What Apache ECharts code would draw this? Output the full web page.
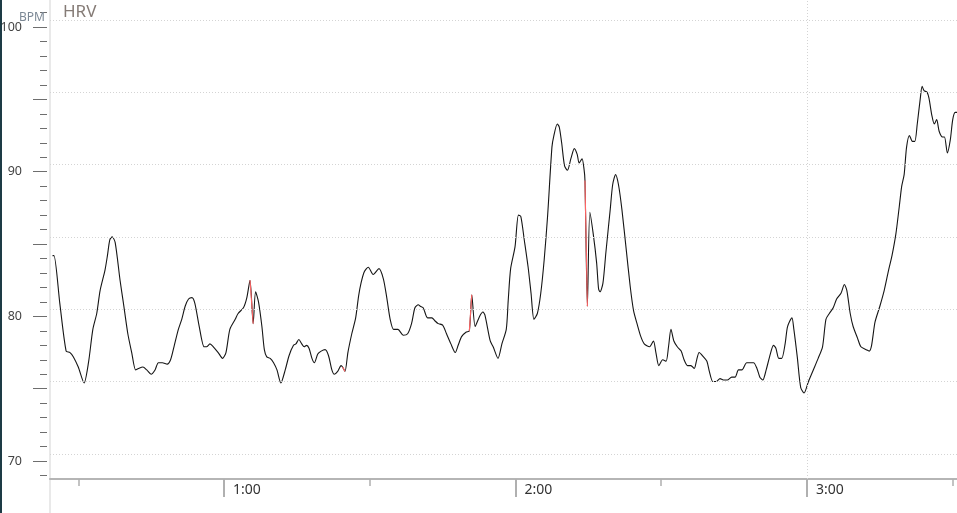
<!DOCTYPE html>
<html>
<head>
<meta charset="utf-8">
<title>HRV</title>
<script src="https://cdn.jsdelivr.net/npm/echarts@6/dist/echarts.min.js"></script>
<style>
  html, body { margin: 0; padding: 0; background: #fff; }
  #hrvChart { width: 957px; height: 513px; }
</style>
</head>
<body>
<div id="hrvChart"></div>
<script>
// time in seconds (label m:ss), heart rate in BPM
var secs = [
  24.7, 25.0, 26.2, 27.5, 28.3, 29.0, 30.0, 31.2, 32.1, 33.0, 33.8, 34.5, 35.5, 36.0, 36.5, 37.0, 37.6, 38.6, 39.3, 40.2,
  41.0, 41.8, 42.4, 43.3, 44.1, 45.0, 45.8, 46.5, 47.3, 48.3, 49.0, 49.7, 50.6, 51.3, 52.0, 52.7, 53.4, 54.0, 54.9, 55.9,
  56.4, 57.1, 57.8, 58.8, 59.7, 60.4, 61.2, 62.3, 62.9, 64.0, 64.7, 65.35, 66.0, 66.5, 67.1, 67.8, 68.3, 68.8, 69.5, 70.2,
  70.9, 71.7, 72.6, 73.4, 74.3, 74.8, 75.4, 76.0, 76.5, 77.0, 77.5, 78.1, 78.6, 79.3, 80.0, 80.8, 81.5, 82.2, 82.7, 83.4,
  84.1, 84.4, 84.9, 85.5, 86.3, 87.1, 87.7, 88.2, 88.9, 89.7, 90.7, 91.9, 92.8, 93.5, 94.2, 94.9, 95.8, 96.9, 97.8, 98.6,
  99.3, 100.0, 100.4, 101.0, 101.9, 102.8, 103.4, 104.1, 105.0, 105.8, 106.7, 107.6, 108.2, 108.9, 109.8, 110.5, 111.0, 111.7, 112.6, 113.3,
  113.7, 114.8, 115.4, 116.4, 117.2, 118.1, 118.5, 119.0, 119.9, 120.6, 121.1, 121.8, 122.6, 123.2, 123.8, 124.5, 125.2, 125.9, 126.6, 127.5,
  127.9, 128.6, 129.0, 129.5, 130.1, 130.7, 131.4, 132.1, 132.7, 133.1, 133.7, 134.1, 134.3, 134.8, 135.3, 136.0, 136.7, 137.1, 137.4, 138.0,
  138.6, 139.5, 140.0, 140.6, 141.2, 141.9, 142.8, 143.6, 144.3, 145.1, 145.8, 146.5, 147.6, 148.4, 148.9, 149.5, 150.3, 151.0, 151.5, 152.0,
  152.6, 153.3, 154.1, 154.7, 155.4, 156.1, 156.8, 157.3, 157.8, 158.7, 159.4, 159.9, 160.6, 161.3, 162.1, 162.8, 163.6, 164.5, 165.2, 165.9,
  166.6, 167.6, 169.0, 169.7, 170.3, 170.9, 171.6, 172.3, 173.1, 173.6, 174.2, 174.8, 175.5, 176.0, 176.9, 177.3, 178.0, 178.7, 179.4, 180.3,
  181.3, 182.3, 183.2, 183.9, 184.6, 185.4, 186.1, 187.0, 187.7, 188.2, 188.9, 189.5, 190.4, 191.1, 192.2, 192.8, 193.3, 194.0, 195.0, 195.9,
  196.8, 197.5, 198.3, 199.0, 199.5, 200.0, 200.5, 201.1, 201.7, 202.2, 202.7, 203.3, 203.7, 204.1, 204.7, 205.1, 205.7, 206.2, 206.7, 207.2,
  207.9, 208.3, 208.9, 209.5, 210.0, 210.5, 210.9
];
var bpm = [
  84.2, 84.2, 80.9, 77.6, 77.5, 77.2, 76.5, 75.4, 76.8, 79.1, 80.2, 81.8, 83.2, 84.2, 85.3, 85.5, 85.1, 82.5, 80.9, 78.8,
  77.5, 76.3, 76.4, 76.5, 76.3, 76.0, 76.3, 76.8, 76.8, 76.7, 77.0, 77.9, 79.1, 79.8, 80.7, 81.2, 81.3, 80.9, 79.3, 77.9,
  77.9, 78.1, 77.9, 77.5, 77.1, 77.5, 79.1, 79.8, 80.2, 80.6, 81.3, 82.5, 79.5, 81.7, 81.0, 79.3, 77.7, 77.2, 77.1, 76.8,
  76.3, 75.4, 76.3, 77.3, 78.0, 78.1, 78.4, 78.1, 77.9, 78.0, 77.8, 77.1, 76.8, 77.4, 77.6, 77.7, 77.3, 76.3, 76.0, 76.2,
  76.6, 76.5, 76.2, 77.5, 78.8, 79.9, 81.4, 82.3, 83.1, 83.4, 82.9, 83.3, 82.6, 81.3, 79.8, 79.1, 79.1, 78.7, 78.8, 79.5,
  80.6, 80.8, 80.7, 80.6, 79.9, 79.9, 79.7, 79.5, 79.4, 78.8, 78.1, 77.5, 78.0, 78.6, 78.9, 79.0, 81.5, 79.3, 80.0, 80.3,
  80.1, 78.3, 77.9, 77.1, 78.1, 79.1, 81.1, 83.3, 84.8, 87.0, 86.9, 85.3, 83.4, 81.6, 79.8, 80.2, 81.6, 83.9, 86.9, 91.7,
  92.5, 93.3, 93.1, 92.0, 90.4, 90.1, 90.9, 91.6, 91.2, 90.6, 90.9, 90.2, 89.4, 80.7, 87.2, 85.7, 83.7, 81.9, 81.7, 82.3,
  84.4, 87.4, 89.1, 89.8, 89.1, 87.4, 84.6, 82.1, 80.4, 79.4, 78.6, 78.1, 77.9, 78.3, 77.5, 76.6, 77.0, 76.9, 77.9, 79.1,
  78.3, 77.9, 77.6, 77.0, 76.6, 76.6, 76.4, 77.0, 77.5, 77.2, 76.9, 76.2, 75.5, 75.5, 75.7, 75.6, 75.6, 75.8, 75.8, 76.3,
  76.3, 76.8, 76.8, 76.4, 75.8, 75.6, 76.3, 77.2, 78.0, 77.8, 77.1, 77.1, 78.1, 79.3, 79.9, 79.1, 77.2, 75.1, 74.7, 75.5,
  76.3, 77.1, 77.9, 79.8, 80.2, 80.6, 81.2, 81.6, 82.2, 81.8, 80.2, 79.3, 78.5, 77.9, 77.7, 77.6, 78.0, 79.6, 80.7, 81.8,
  83.2, 84.2, 85.7, 87.6, 89.0, 89.8, 91.7, 92.5, 92.1, 92.1, 93.3, 95.0, 95.9, 95.6, 95.5, 95.1, 93.9, 93.3, 93.6, 92.8,
  92.4, 92.4, 91.3, 92.2, 93.6, 94.1, 94.1
];
// points where the next step is an artefact jump (drawn red)
var jumpStarts = [65.35, 84.4, 110.5, 134.3];

var yMajorTicks = [70, 75, 80, 85, 90, 95, 100];
var yMinorTicks = [69, 71, 72, 73, 74, 76, 77, 78, 79, 81, 82, 83, 84, 86, 87, 88, 89, 91, 92, 93, 94, 96, 97, 98, 99, 101];
var yLabels = [70, 80, 90, 100];
var xMajorTicks = [60, 120, 180];
var xMinorTicks = [30, 90, 150, 210];
var hGridLines = [70.5, 75.5, 80.5, 85.5, 90.5, 95.5, 100.5];
var vGridLines = [180];

var xMin = 24.18, xMax = 210.88;
var yMin = 68.76, yMax = 101.87;

var chartDom = document.getElementById('hrvChart');
var myChart = echarts.init(chartDom);

var lineData = secs.map(function (t, i) { return [t, bpm[i]]; });

var jumpSeries = jumpStarts.map(function (t) {
  var i = secs.indexOf(t);
  return {
    type: 'line',
    data: [lineData[i], lineData[i + 1]],
    showSymbol: false,
    silent: true,
    z: 4,
    lineStyle: { color: '#ff6464', width: 1.1 }
  };
});

function fmtTime(v) {
  var m = Math.floor(v / 60);
  var s = Math.round(v % 60);
  return m + ':' + (s < 10 ? '0' + s : s);
}

var dotted = { color: '#d4d4d4', width: 1, type: [1, 2] };

var option = {
  animation: false,
  backgroundColor: '#fff',
  title: [
    { text: 'HRV', left: 63, top: 4, padding: 0, textStyle: { fontSize: 17, fontWeight: 'normal', color: '#857b76', fontFamily: 'Noto Sans' } },
    { text: 'BPM', left: 19, top: 12, padding: 0, textStyle: { fontSize: 12, fontWeight: 'normal', color: '#7b8794', fontFamily: 'Noto Sans' } }
  ],
  graphic: [
    { type: 'rect', shape: { x: 0, y: 0, width: 2, height: 513 }, style: { fill: '#1d3b45' } },
    { type: 'rect', shape: { x: 49, y: 0, width: 2, height: 513 }, style: { fill: '#e9e9e9' } }
  ],
  grid: { left: 50, right: 0, top: 0, bottom: 34, containLabel: false, outerBoundsMode: 'none' },
  xAxis: [
    {
      type: 'value', min: xMin, max: xMax, position: 'bottom',
      axisLine: { show: true, lineStyle: { color: '#b5b5b5', width: 2 } },
      axisTick: { show: true, customValues: xMajorTicks, length: 18, lineStyle: { color: '#b0b0b0', width: 2 } },
      axisLabel: {
        customValues: xMajorTicks, formatter: fmtTime, align: 'left', verticalAlign: 'middle',
        margin: 11, padding: [0, 0, 0, 9], fontSize: 14, color: '#333', fontFamily: 'Noto Sans'
      },
      splitLine: { show: false }
    },
    {
      type: 'value', min: xMin, max: xMax, position: 'bottom',
      axisLine: { show: false },
      axisTick: { show: true, customValues: xMinorTicks, length: 7, lineStyle: { color: '#b0b0b0', width: 1.5 } },
      axisLabel: { show: false },
      splitLine: { show: false }
    }
  ],
  yAxis: [
    {
      type: 'value', min: yMin, max: yMax, position: 'left', offset: 3,
      axisLine: { show: false },
      axisTick: { show: true, customValues: yMajorTicks, length: 14, lineStyle: { color: '#6e6e6e', width: 1 } },
      axisLabel: { customValues: yLabels, margin: 25, fontSize: 12.5, color: '#444', fontFamily: 'Noto Sans' },
      splitLine: { show: false }
    },
    {
      type: 'value', min: yMin, max: yMax, position: 'left', offset: 3,
      axisLine: { show: false },
      axisTick: { show: true, customValues: yMinorTicks, length: 7, lineStyle: { color: '#6e6e6e', width: 1 } },
      axisLabel: { show: false },
      splitLine: { show: false }
    }
  ],
  series: [
    {
      type: 'line',
      data: [],
      silent: true,
      z: 1,
      markLine: {
        silent: true,
        symbol: ['none', 'none'],
        label: { show: false },
        lineStyle: dotted,
        data: hGridLines.map(function (v) { return { yAxis: v }; })
          .concat(vGridLines.map(function (v) { return { xAxis: v }; }))
      }
    },
    {
      type: 'line',
      data: lineData,
      showSymbol: false,
      silent: true,
      smooth: 0.25,
      z: 3,
      lineStyle: { color: '#151515', width: 1.1 }
    }
  ].concat(jumpSeries)
};

myChart.setOption(option);
</script>
</body>
</html>
